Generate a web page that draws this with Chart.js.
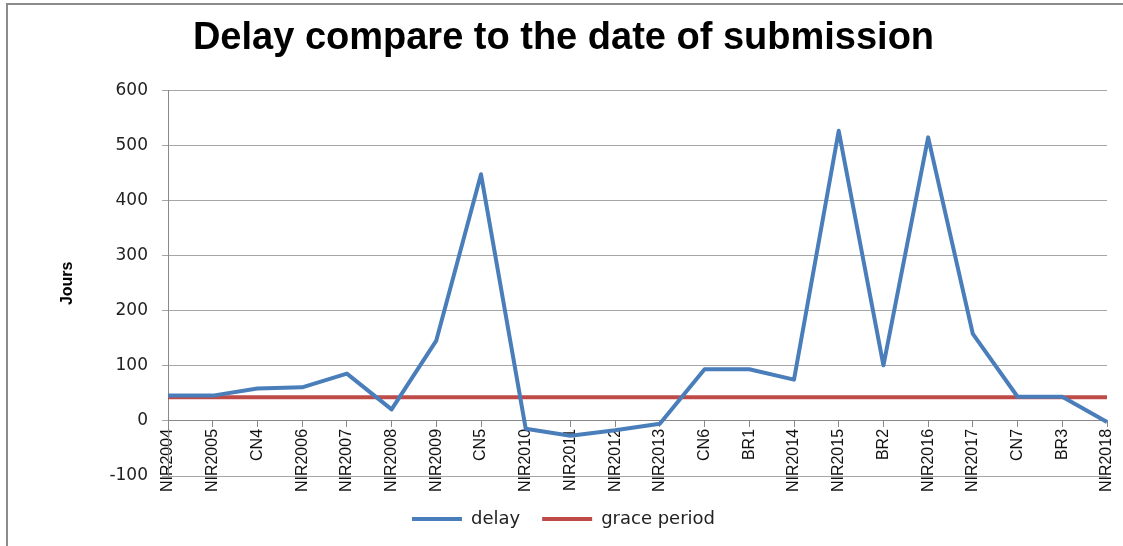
<!DOCTYPE html>
<html>
<head>
<meta charset="utf-8">
<script src="https://cdn.jsdelivr.net/npm/chart.js@4/dist/chart.umd.min.js"></script>
<style>
  html, body { margin: 0; padding: 0; background: #fff; }
  .chartbox { position: relative; width: 1123px; height: 546px; }
  .frame {
    position: absolute; left: 6px; top: 3px; right: 0; bottom: 0;
    border-top: 2px solid #8c8c8c; border-left: 2px solid #8c8c8c;
    pointer-events: none;
  }
</style>
</head>
<body>
<div class="chartbox">
  <canvas id="delayChart" width="1123" height="546"></canvas>
  <div class="frame"></div>
</div>
<script>
const categories = ['NIR2004', 'NIR2005', 'CN4', 'NIR2006', 'NIR2007', 'NIR2008', 'NIR2009', 'CN5',
  'NIR2010', 'NIR2011', 'NIR2012', 'NIR2013', 'CN6', 'BR1', 'NIR2014', 'NIR2015', 'BR2',
  'NIR2016', 'NIR2017', 'CN7', 'BR3', 'NIR2018'];

const delay = [46, 46, 59, 61, 86, 21, 146, 448, -14, -27, -17, -5, 94, 94, 75, 527, 101, 515, 158, 44, 44, -2];

const gracePeriod = [43, 43, 43, 43, 43, 43, 43, 43, 43, 43, 43, 43, 43, 43, 43, 43, 43, 43, 43, 43, 43, 43];

const yTicks = [-100, 0, 100, 200, 300, 400, 500, 600];

const ctx = document.getElementById('delayChart').getContext('2d');

const chart = new Chart(ctx, {
  type: 'line',
  data: {
    labels: [...categories],
    datasets: [
      {
        label: 'delay',
        data: delay,
        borderColor: '#4a7ebb',
        backgroundColor: '#4a7ebb',
        borderWidth: 4,
        pointRadius: 0,
        tension: 0,
        borderJoinStyle: 'round',
        order: 1,
      },
      {
        label: 'grace period',
        data: gracePeriod,
        borderColor: '#be4b48',
        backgroundColor: '#be4b48',
        borderWidth: 4,
        pointRadius: 0,
        tension: 0,
        order: 2,
      },
    ],
  },
  options: {
    responsive: false,
    animation: false,
    layout: { padding: { left: 20, right: 16, top: 0, bottom: 8 } },
    plugins: {
      title: {
        display: true,
        text: 'Delay compare to the date of submission',
        color: '#000',
        font: { family: '"Liberation Sans", Arial, sans-serif', size: 38, weight: 'bold' },
        padding: { top: 16, bottom: 29 },
      },
      legend: {
        position: 'bottom',
        title: { display: true, text: '', font: { size: 10 }, padding: { top: 0, bottom: 0 } },
        labels: {
          color: '#222',
          font: { family: '"DejaVu Sans", sans-serif', size: 18 },
          usePointStyle: true,
          pointStyle: 'line',
          pointStyleWidth: 50,
          padding: 22,
        },
      },
      tooltip: { enabled: false },
    },
    scales: {
      x: {
        type: 'category',
        position: { y: 0 },
        offset: false,
        afterFit: (scale) => { scale.paddingRight = 0; },
        grid: { display: true, drawOnChartArea: false, drawTicks: true, tickLength: 6, color: '#888', offset: false },
        border: { display: true, color: '#888', width: 1 },
        ticks: {
          autoSkip: false,
          minRotation: 90,
          maxRotation: 90,
          padding: 2,
          color: '#111',
          font: { family: '"Liberation Sans", Arial, sans-serif', size: 16 },
        },
      },
      y: {
        min: -100,
        max: 600,
        afterBuildTicks: (scale) => { scale.ticks = yTicks.map((v) => ({ value: v })); },
        afterFit: (scale) => { scale.width = 148; },
        grid: { color: '#a6a6a6', lineWidth: 1, tickLength: 6 },
        border: { display: true, color: '#888', width: 1 },
        ticks: {
          padding: 14,
          color: '#222',
          font: { family: '"DejaVu Sans", sans-serif', size: 17 },
        },
        title: {
          display: true,
          text: 'Jours',
          color: '#000',
          font: { family: '"Liberation Sans", Arial, sans-serif', size: 16, weight: 'bold' },
          padding: { top: 38, bottom: 0 },
        },
      },
    },
  },
});
</script>
</body>
</html>
